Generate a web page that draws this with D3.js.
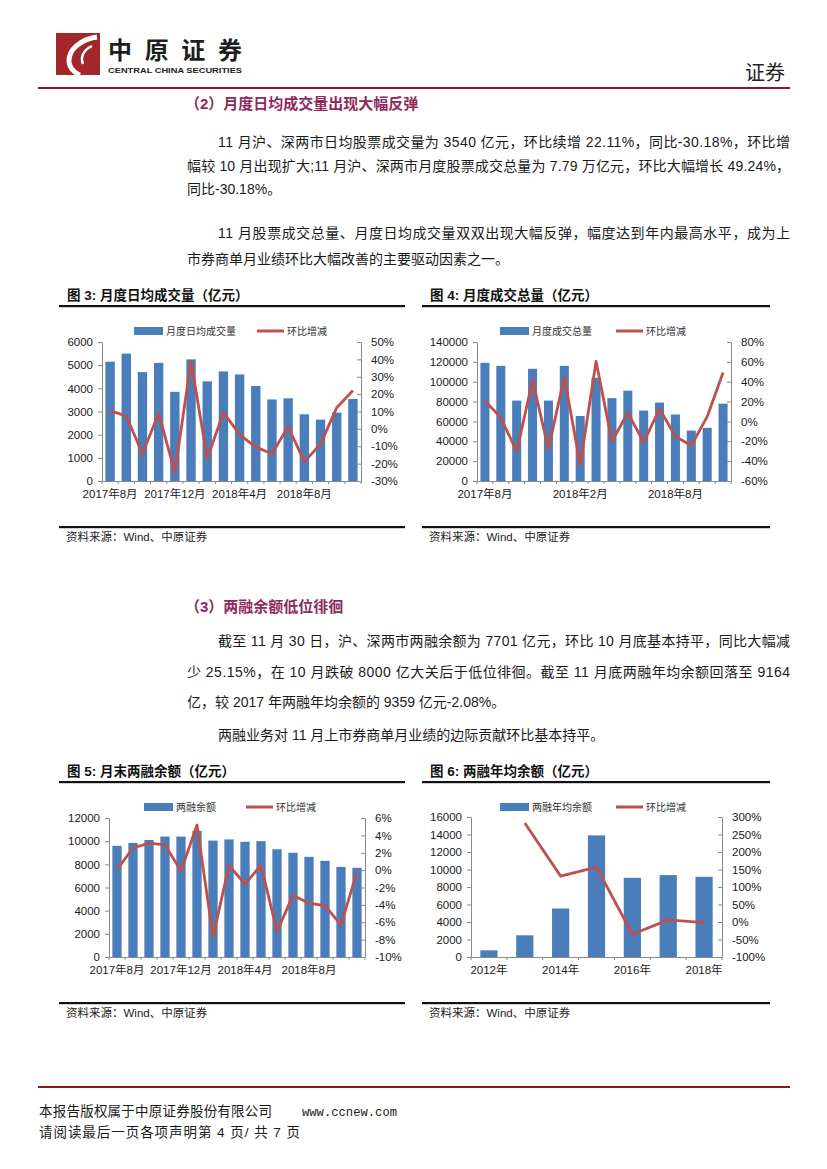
<!DOCTYPE html>
<html>
<head>
<meta charset="utf-8">
<script src="https://cdn.jsdelivr.net/npm/d3@7"></script>
<style>
  body { margin: 0; background: #fff; }
  svg text { font-family: "Liberation Sans", "Noto Sans CJK SC", sans-serif; }
</style>
</head>
<body>
<div id="page"></div>
<script>
// ---- data ----
var months = ["2017年8月", "2017年9月", "2017年10月", "2017年11月", "2017年12月", "2018年1月",
              "2018年2月", "2018年3月", "2018年4月", "2018年5月", "2018年6月", "2018年7月",
              "2018年8月", "2018年9月", "2018年10月", "2018年11月"];
var dailyVol = [5150, 5500, 4700, 5100, 3850, 5250, 4300, 4730, 4600, 4100, 3520, 3570, 2880, 2650, 2950, 3540];
var dailyChg = [10.5, 7.4, -14.3, 9.0, -25.0, 38.9, -17.2, 9.5, -3.3, -10.5, -14.3, 1.3, -18.9, -8.8, 12.2, 22.11];
var totalVol = [119000, 116000, 81000, 113000, 81000, 116000, 65500, 104000, 83500, 91000, 71000, 79000, 67000, 50800, 53500, 77900];
var totalChg = [20.9, 3.8, -30.3, 41.6, -27.9, 44.9, -44.0, 60.6, -20.2, 8.8, -21.2, 12.8, -15.2, -24.2, 4.8, 49.24];
var marginBal = [9600, 9850, 10100, 10400, 10400, 10900, 10050, 10150, 9950, 10000, 9300, 9000, 8650, 8300, 7780, 7701];
var marginChg = [0.05, 2.55, 3.1, 2.9, -0.1, 5.2, -7.7, 0.55, -1.6, 0.55, -7.05, -2.9, -3.8, -4.1, -6.3, -0.2];
var years = ["2012年", "2013年", "2014年", "2015年", "2016年", "2017年", "2018年"];
var yearAvg = [760, 2480, 5540, 13900, 9050, 9359, 9164];
var yearChg = [null, 282.8, 131, 156.8, -35, 6, -2.08];

var barColor = "#4A7EBB";
var lineColor = "#C0504D";

var page = d3.select("#page").append("svg")
    .attr("width", 827)
    .attr("height", 1169);

// ---- header ----
page.append("rect").attr("x", 56).attr("y", 33).attr("width", 44).attr("height", 42).attr("fill", "#A3262A");
page.append("path")
    .attr("d", "M97,37 C82,39 68,49 69,62 C70,69 75,73 80,75")
    .attr("fill", "none").attr("stroke", "#fff").attr("stroke-width", 5);
page.append("path")
    .attr("d", "M92,46 C84,50 80,56 83,64")
    .attr("fill", "none").attr("stroke", "#fff").attr("stroke-width", 2.5);
page.append("text")
    .attr("x", 108).attr("y", 59)
    .attr("textLength", 134)
    .style("font-size", "24px").style("font-weight", "bold").style("fill", "#1e1e1e")
    .text("中原证券");
page.append("text")
    .attr("x", 108).attr("y", 73)
    .attr("textLength", 134).attr("lengthAdjust", "spacingAndGlyphs")
    .style("font-size", "8px").style("font-weight", "bold").style("fill", "#1e1e1e")
    .text("CENTRAL CHINA SECURITIES");
page.append("text")
    .attr("x", 785).attr("y", 80)
    .style("text-anchor", "end")
    .style("font-size", "20px").style("fill", "#222")
    .text("证券");
page.append("rect").attr("x", 38).attr("y", 87).attr("width", 752).attr("height", 2).attr("fill", "#8B1A1A");

// ---- body text ----
var headColor = "#8C2A5C";
function heading(y, str) {
    page.append("text")
        .attr("x", 185).attr("y", y)
        .style("font-size", "15px").style("font-weight", "bold").style("fill", headColor)
        .text(str);
}
function bodyLine(x, y, str, justify) {
    var t = page.append("text")
        .attr("x", x).attr("y", y)
        .style("font-size", "14px").style("fill", "#1a1a1a")
        .text(str);
    if (justify) t.attr("textLength", 790 - x).attr("lengthAdjust", "spacing");
}

heading(109, "（2）月度日均成交量出现大幅反弹");
bodyLine(218, 147, "11 月沪、深两市日均股票成交量为 3540 亿元，环比续增 22.11%，同比-30.18%，环比增", true);
bodyLine(187, 171, "幅较 10 月出现扩大;11 月沪、深两市月度股票成交总量为 7.79 万亿元，环比大幅增长 49.24%，", true);
bodyLine(187, 194, "同比-30.18%。", false);
bodyLine(218, 238, "11 月股票成交总量、月度日均成交量双双出现大幅反弹，幅度达到年内最高水平，成为上", true);
bodyLine(187, 264, "市券商单月业绩环比大幅改善的主要驱动因素之一。", false);

heading(612, "（3）两融余额低位徘徊");
bodyLine(218, 646, "截至 11 月 30 日，沪、深两市两融余额为 7701 亿元，环比 10 月底基本持平，同比大幅减", true);
bodyLine(187, 677, "少 25.15%，在 10 月跌破 8000 亿大关后于低位徘徊。截至 11 月底两融年均余额回落至 9164", true);
bodyLine(187, 707, "亿，较 2017 年两融年均余额的 9359 亿元-2.08%。", false);
bodyLine(218, 740, "两融业务对 11 月上市券商单月业绩的边际贡献环比基本持平。", false);

// ---- figure frames ----
function frame(x0, x1, yTitle, ySource, title) {
    page.append("text")
        .attr("x", x0 + 8).attr("y", yTitle)
        .style("font-size", "13.5px").style("font-weight", "bold").style("fill", "#111")
        .text(title);
    page.append("rect").attr("x", x0).attr("y", yTitle + 5).attr("width", x1 - x0).attr("height", 2.2).attr("fill", "#111");
    page.append("rect").attr("x", x0).attr("y", ySource - 15).attr("width", x1 - x0).attr("height", 2.2).attr("fill", "#111");
    page.append("text")
        .attr("x", x0 + 7).attr("y", ySource)
        .style("font-size", "11.5px").style("fill", "#222")
        .text("资料来源：Wind、中原证券");
}
frame(59, 405, 300, 541, "图 3:  月度日均成交量（亿元）");
frame(422, 770, 300, 541, "图 4:  月度成交总量（亿元）");
frame(59, 405, 776, 1017, "图 5:  月末两融余额（亿元）");
frame(422, 770, 776, 1017, "图 6:  两融年均余额（亿元）");

// ---- combo chart ----
function drawChart(o) {
    var g = page.append("g");
    var rows = o.cats.map(function(c, i) { return { c: c, b: o.bars[i], l: o.line[i] }; });

    var x = d3.scaleBand().domain(o.cats).range([o.x0, o.x1])
        .paddingInner(o.pad).paddingOuter(o.pad / 2);
    var yL = d3.scaleLinear().domain(o.yL).range([o.y1, o.y0]);
    var yR = d3.scaleLinear().domain(o.yR).range([o.y1, o.y0]);

    g.selectAll(".bar")
        .data(rows)
        .enter().append("rect")
        .attr("class", "bar")
        .attr("x", function(d) { return x(d.c); })
        .attr("y", function(d) { return yL(d.b); })
        .attr("width", x.bandwidth())
        .attr("height", function(d) { return yL(0) - yL(d.b); })
        .style("fill", barColor);

    var line = d3.line()
        .defined(function(d) { return d.l != null; })
        .x(function(d) { return x(d.c) + x.bandwidth() / 2; })
        .y(function(d) { return yR(d.l); });
    g.append("path")
        .datum(rows)
        .attr("d", line)
        .style("fill", "none")
        .style("stroke", lineColor)
        .style("stroke-width", 2.8)
        .style("stroke-linejoin", "round");

    var left = g.append("g")
        .attr("transform", "translate(" + o.x0 + ",0)")
        .call(d3.axisLeft(yL).tickValues(o.ticksL).tickSize(4).tickSizeOuter(0).tickPadding(5)
            .tickFormat(d3.format("d")));
    var right = g.append("g")
        .attr("transform", "translate(" + o.x1 + ",0)")
        .call(d3.axisRight(yR).tickValues(o.ticksR).tickSizeInner(-4).tickSizeOuter(0).tickPadding(10)
            .tickFormat(function(d) { return d + "%"; }));
    var bottom = g.append("g")
        .attr("transform", "translate(0," + o.y1 + ")")
        .call(d3.axisBottom(x)
            .tickValues(o.cats.filter(function(c, i) { return i % o.every == 0; }))
            .tickSize(0).tickPadding(9));

    // little ticks between categories
    var step = x.step();
    for (var i = 0; i <= o.cats.length; i++) {
        g.append("line")
            .attr("x1", o.x0 + i * step).attr("x2", o.x0 + i * step)
            .attr("y1", o.y1).attr("y2", o.y1 + 3)
            .style("stroke", "#898989");
    }

    [left, right, bottom].forEach(function(a) {
        a.selectAll(".domain").style("stroke", "#898989");
        a.selectAll(".tick line").style("stroke", "#898989");
        a.selectAll("text").style("font-size", "11.5px").style("fill", "#1a1a1a")
            .style("font-family", "Liberation Sans, Noto Sans CJK SC, sans-serif");
    });

    // legend
    var ly = o.legendY;
    g.append("rect").attr("x", o.legBar).attr("y", ly - 4).attr("width", 29).attr("height", 8).style("fill", barColor);
    g.append("text").attr("x", o.legBar + 32).attr("y", ly + 4)
        .style("font-size", "10px").style("fill", "#333").text(o.barName);
    g.append("line").attr("x1", o.legLine).attr("x2", o.legLine + 27).attr("y1", ly).attr("y2", ly)
        .style("stroke", lineColor).style("stroke-width", 3);
    g.append("text").attr("x", o.legLine + 30).attr("y", ly + 4)
        .style("font-size", "10px").style("fill", "#333").text("环比增减");
}

drawChart({
    cats: months, bars: dailyVol, line: dailyChg,
    x0: 102, x1: 361, y0: 342, y1: 481, pad: 0.42,
    yL: [0, 6000], ticksL: d3.range(0, 6001, 1000),
    yR: [-30, 50], ticksR: d3.range(-30, 51, 10),
    every: 4, legendY: 331, legBar: 134, legLine: 257, barName: "月度日均成交量"
});
drawChart({
    cats: months, bars: totalVol, line: totalChg,
    x0: 477, x1: 731, y0: 342, y1: 481, pad: 0.43,
    yL: [0, 140000], ticksL: d3.range(0, 140001, 20000),
    yR: [-60, 80], ticksR: d3.range(-60, 81, 20),
    every: 6, legendY: 331, legBar: 500, legLine: 616, barName: "月度成交总量"
});
drawChart({
    cats: months, bars: marginBal, line: marginChg,
    x0: 109, x1: 365, y0: 818, y1: 957, pad: 0.42,
    yL: [0, 12000], ticksL: d3.range(0, 12001, 2000),
    yR: [-10, 6], ticksR: d3.range(-10, 7, 2),
    every: 4, legendY: 807, legBar: 144, legLine: 246, barName: "两融余额"
});
drawChart({
    cats: years, bars: yearAvg, line: yearChg,
    x0: 471, x1: 722, y0: 817, y1: 957, pad: 0.52,
    yL: [0, 16000], ticksL: d3.range(0, 16001, 2000),
    yR: [-100, 300], ticksR: d3.range(-100, 301, 50),
    every: 2, legendY: 807, legBar: 500, legLine: 616, barName: "两融年均余额"
});

// ---- footer ----
page.append("rect").attr("x", 38).attr("y", 1086).attr("width", 752).attr("height", 2).attr("fill", "#8B1A1A");
page.append("text").attr("x", 39).attr("y", 1116)
    .attr("textLength", 233).attr("lengthAdjust", "spacing")
    .style("font-size", "13.5px").style("fill", "#1a1a1a")
    .text("本报告版权属于中原证券股份有限公司");
page.append("text").attr("x", 302).attr("y", 1116)
    .attr("textLength", 95).attr("lengthAdjust", "spacingAndGlyphs")
    .style("font-size", "13px").style("fill", "#1a1a1a").style("font-family", "Liberation Mono, monospace")
    .text("www.ccnew.com");
page.append("text").attr("x", 39).attr("y", 1137)
    .attr("textLength", 261).attr("lengthAdjust", "spacing")
    .style("font-size", "13.5px").style("fill", "#1a1a1a")
    .text("请阅读最后一页各项声明第 4 页/ 共 7 页");
</script>
</body>
</html>
